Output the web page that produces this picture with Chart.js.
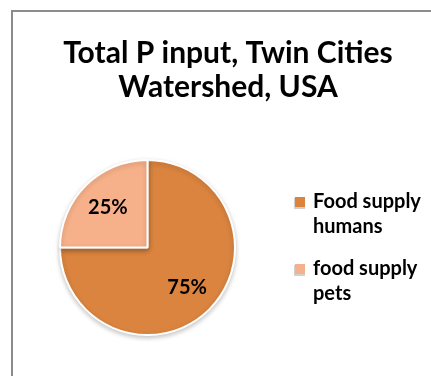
<!DOCTYPE html>
<html>
<head>
<meta charset="utf-8">
<script src="https://cdn.jsdelivr.net/npm/chart.js@4.4.0/dist/chart.umd.min.js"></script>
<style>
html,body{margin:0;padding:0;background:#fff;}
#wrap{position:relative;width:431px;height:376px;}
#frame{position:absolute;left:11px;top:10px;width:430px;height:380px;border:2px solid #8c8c8c;box-sizing:border-box;}
canvas{position:absolute;left:0;top:0;}
</style>
</head>
<body>
<div id="wrap">
<div id="frame"></div>
<canvas id="c" width="431" height="376"></canvas>
</div>
<script>
const titleLines = ["Total P input, Twin Cities", "Watershed, USA"];
const categories = [["Food supply", "humans"], ["food supply", "pets"]];
const values = [75, 25];
const pctLabels = ["75%", "25%"];
const colors = ["#DA843F", "#F7B18A"];

const FONT = "Lato, 'Open Sans', 'Liberation Sans', sans-serif";

const shadow = {
  id: 'shadow',
  beforeDatasetsDraw(chart) {
    const ctx = chart.ctx;
    ctx.save();
    ctx.shadowColor = 'rgba(0,0,0,0.22)';
    ctx.shadowBlur = 5;
    ctx.shadowOffsetY = 2;
  },
  afterDatasetsDraw(chart) {
    chart.ctx.restore();
  }
};

const overlay = {
  id: 'overlay',
  afterDraw(chart) {
    const ctx = chart.ctx;
    ctx.save();
    // title
    ctx.fillStyle = '#000';
    ctx.textAlign = 'center';
    ctx.textBaseline = 'alphabetic';
    ctx.font = "bold 30px " + FONT;
    titleLines.forEach((t, i) => ctx.fillText(t, 228, 63 + i * 34));
    // slice labels
    const meta = chart.getDatasetMeta(0);
    ctx.font = "bold 20px " + FONT;
    ctx.textBaseline = 'middle';
    meta.data.forEach((arc, i) => {
      const p = arc.getProps(['x','y','startAngle','endAngle','outerRadius'], true);
      const mid = (p.startAngle + p.endAngle) / 2;
      const r = p.outerRadius * 0.64;
      ctx.fillText(pctLabels[i], p.x + Math.cos(mid) * r, p.y + Math.sin(mid) * r);
    });
    // legend
    ctx.textAlign = 'left';
    ctx.textBaseline = 'alphabetic';
    ctx.font = "bold 20px " + FONT;
    categories.forEach((lines, i) => {
      const base = 208 + i * 67;
      ctx.fillStyle = 'rgba(0,0,0,0.18)';
      ctx.fillRect(294, base - 10, 11, 11);
      ctx.fillStyle = colors[i];
      ctx.fillRect(295, base - 11, 10, 10);
      ctx.fillStyle = '#000';
      lines.forEach((l, j) => ctx.fillText(l, 313, base + j * 25));
    });
    ctx.restore();
  }
};

new Chart(document.getElementById('c'), {
  type: 'pie',
  data: {
    labels: categories.map(c => c.join(' ')),
    datasets: [{
      data: values,
      backgroundColor: colors,
      borderColor: '#ffffff',
      borderWidth: 2
    }]
  },
  options: {
    responsive: false,
    animation: false,
    layout: { padding: { left: 59, right: 195, top: 159, bottom: 40 } },
    plugins: {
      legend: { display: false },
      title: { display: false },
      tooltip: { enabled: false }
    }
  },
  plugins: [shadow, overlay]
});
</script>
</body>
</html>
